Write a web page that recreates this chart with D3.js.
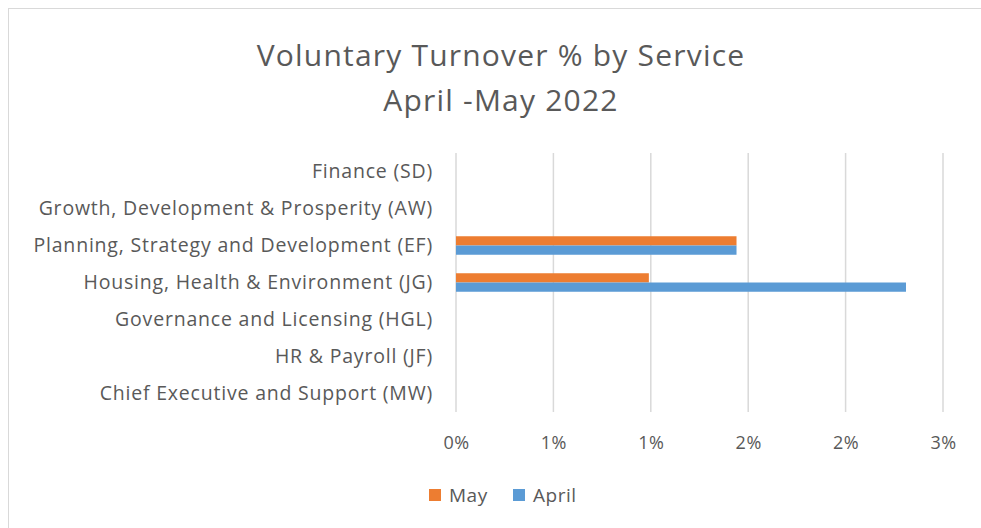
<!DOCTYPE html>
<html>
<head>
<meta charset="utf-8">
<script src="https://cdn.jsdelivr.net/npm/d3@7"></script>
<style>
  body { margin: 0; background: #fff; }
  text { font-family: "Open Sans", "Liberation Sans", sans-serif; fill: #595959; }
</style>
</head>
<body>
<div id="chart"></div>
<script>
// chart data
const services = [
  "Finance (SD)",
  "Growth, Development & Prosperity (AW)",
  "Planning, Strategy and Development (EF)",
  "Housing, Health & Environment (JG)",
  "Governance and Licensing (HGL)",
  "HR & Payroll (JF)",
  "Chief Executive and Support (MW)"
];
const mayValues = [0, 0, 1.44, 0.99, 0, 0, 0];
const aprilValues = [0, 0, 1.44, 2.31, 0, 0, 0];
const seriesNames = ["May", "April"];
const seriesColors = ["#ED7D31", "#5B9BD5"];
const tickValues = [0, 0.5, 1, 1.5, 2, 2.5];

const W = 981, H = 528;
const margin = {top: 153, right: 38, bottom: 116, left: 456};
const width = W - margin.left - margin.right,
      height = H - margin.top - margin.bottom;

const svg = d3.select("#chart")
  .append("svg")
  .attr("width", W)
  .attr("height", H);

// outer chart border
svg.append("rect")
  .attr("x", 8.5).attr("y", 8.5)
  .attr("width", W).attr("height", H)
  .attr("fill", "none")
  .attr("stroke", "#d9d9d9");

// title
svg.append("text")
  .attr("x", 501).attr("y", 66)
  .attr("text-anchor", "middle")
  .style("font-size", "30px")
  .style("letter-spacing", "1.2px")
  .text("Voluntary Turnover % by Service");
svg.append("text")
  .attr("x", 501).attr("y", 111)
  .attr("text-anchor", "middle")
  .style("font-size", "30px")
  .style("letter-spacing", "1.2px")
  .text("April -May 2022");

const g = svg.append("g")
  .attr("transform", `translate(${margin.left}, ${margin.top})`);

const x = d3.scaleLinear()
  .domain([0, 2.5])
  .range([0, 487]);

const y = d3.scaleBand()
  .domain(services)
  .range([0, height])
  .paddingInner(0.5)
  .paddingOuter(0.25);

const ySub = d3.scaleBand()
  .domain(seriesNames)
  .range([0, y.bandwidth()]);

// gridlines
g.append("g")
  .selectAll("line")
  .data(tickValues)
  .join("line")
  .attr("x1", d => x(d)).attr("x2", d => x(d))
  .attr("y1", 0).attr("y2", height)
  .attr("stroke", "#d9d9d9")
  .attr("stroke-width", 1.5);

// x axis labels
const xAxis = g.append("g")
  .attr("transform", `translate(0, ${height})`)
  .call(d3.axisBottom(x)
    .tickValues(tickValues)
    .tickSize(0)
    .tickPadding(24)
    .tickFormat(d => Math.round(d) + "%"));
xAxis.select(".domain").remove();
xAxis.selectAll("text").style("font-size", "18px").style("letter-spacing", "0.5px").attr("fill", "#595959");

// y axis labels
const yAxis = g.append("g")
  .call(d3.axisLeft(y).tickSize(0).tickPadding(23));
yAxis.select(".domain").remove();
yAxis.selectAll("text").style("font-size", "19.5px").style("letter-spacing", "0.8px").attr("fill", "#595959");

// bars
const rows = services.map((s, i) => ({service: s, May: mayValues[i], April: aprilValues[i]}));
const color = d3.scaleOrdinal().domain(seriesNames).range(seriesColors);

g.append("g")
  .selectAll("g")
  .data(rows)
  .join("g")
  .attr("transform", d => `translate(0, ${y(d.service)})`)
  .selectAll("rect")
  .data(d => seriesNames.map(k => ({key: k, value: d[k]})))
  .join("rect")
  .attr("x", 0)
  .attr("y", d => ySub(d.key))
  .attr("width", d => x(d.value))
  .attr("height", ySub.bandwidth())
  .attr("fill", d => color(d.key));

// legend
const legend = svg.append("g");
const legendX = [429, 513];
seriesNames.forEach((name, i) => {
  legend.append("rect")
    .attr("x", legendX[i]).attr("y", 489)
    .attr("width", 12).attr("height", 12)
    .attr("fill", seriesColors[i]);
  legend.append("text")
    .attr("x", legendX[i] + 20).attr("y", 502)
    .style("font-size", "19px")
    .style("letter-spacing", "0.5px")
    .text(name);
});
</script>
</body>
</html>
